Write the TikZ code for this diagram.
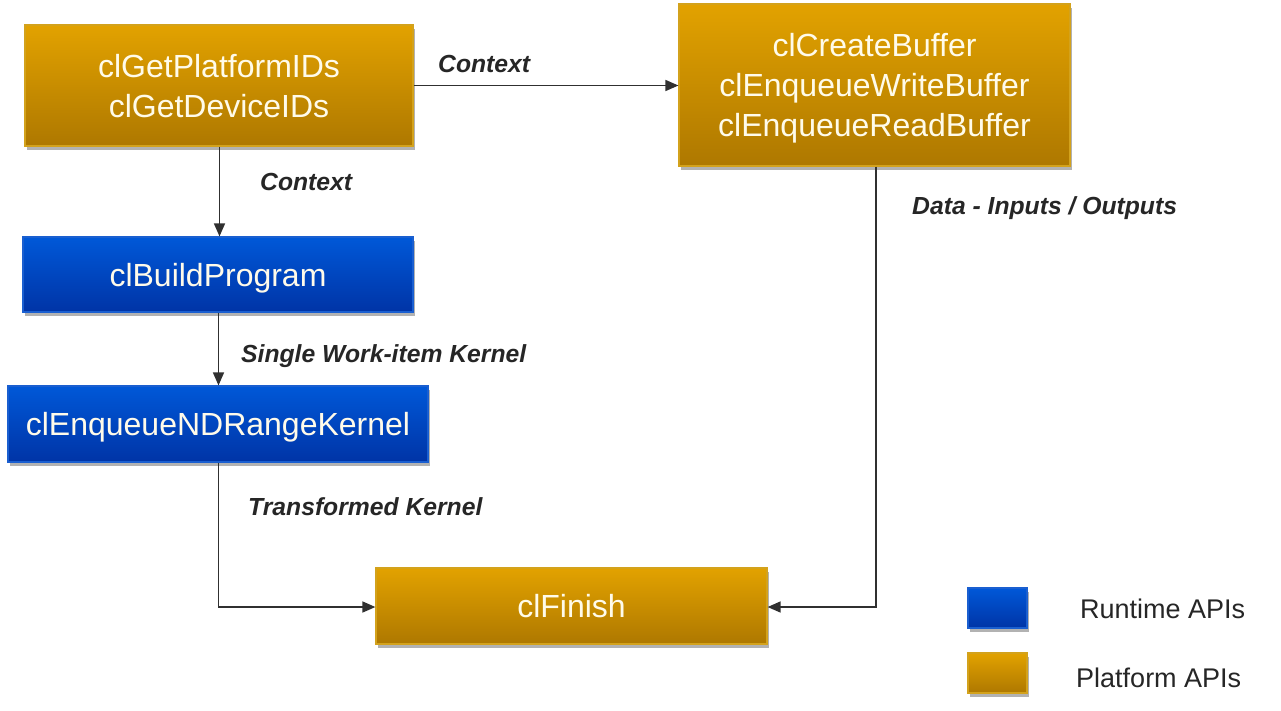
\documentclass[tikz,border=0pt]{standalone}
\usepackage{fontspec}
\setmainfont{Liberation Sans}
\usetikzlibrary{arrows.meta,shadows}
\definecolor{orTop}{HTML}{E2A200}
\definecolor{orBot}{HTML}{AE7800}
\definecolor{orLine}{HTML}{D3A21C}
\definecolor{blTop}{HTML}{0058D8}
\definecolor{blBot}{HTML}{0034A6}
\definecolor{blLine}{HTML}{1A5FD0}
\definecolor{lineGray}{HTML}{303030}
\definecolor{txtGray}{HTML}{262626}
\definecolor{boxTxt}{HTML}{FFFBEA}
\begin{document}
\begin{tikzpicture}[x=1pt,y=-1pt,
  boxbase/.style={inner sep=0pt, line width=1.2pt, text=boxTxt, align=center,
    text depth=0pt,
    font=\fontsize{32}{40}\selectfont,
    drop shadow={shadow xshift=2pt, shadow yshift=-4pt, opacity=0.3, fill=black}},
  platform/.style={boxbase, draw=orLine, top color=orTop, bottom color=orBot},
  runtime/.style={boxbase, draw=blLine, top color=blTop, bottom color=blBot},
  arr/.style={draw=lineGray, line width=1.5pt, -{Triangle[length=13pt,width=11pt]}},
  lbl/.style={anchor=base west, inner sep=0pt, text=txtGray, font=\fontsize{24.7}{28}\selectfont\bfseries\itshape},
  legtxt/.style={anchor=base west, inner sep=0pt, text=txtGray, font=\fontsize{27}{32}\selectfont}]
\useasboundingbox (0,0) rectangle (1281,710);
\fill[white] (0,0) rectangle (1281,710);

\node[platform, minimum width=388pt, minimum height=121pt] (A) at (219,85.5) {clGetPlatformIDs\\clGetDeviceIDs};
\node[runtime, minimum width=390pt, minimum height=75pt] (B) at (218,274.5) {clBuildProgram};
\node[runtime, minimum width=420pt, minimum height=76pt] (C) at (218,424) {clEnqueueNDRangeKernel};
\node[platform, minimum width=391pt, minimum height=162pt] (D) at (874.5,85) {clCreateBuffer\\clEnqueueWriteBuffer\\clEnqueueReadBuffer};
\node[platform, minimum width=391pt, minimum height=76pt] (E) at (571.5,606) {clFinish};

\node[runtime, minimum width=59pt, minimum height=40pt] (LR) at (997.5,608) {};
\node[platform, minimum width=59pt, minimum height=40pt] (LP) at (997.5,673) {};
\node[legtxt] (LRt) at (1080,618) {Runtime APIs};
\node[legtxt] (LPt) at (1076,687) {Platform APIs};

\draw[arr] (A.east) -- (A.east -| D.west);
\draw[arr] ([xshift=0.5pt]A.south) -- ([xshift=0.5pt]A.south |- B.north);
\draw[arr] ([xshift=0.5pt]B.south) -- ([xshift=0.5pt]B.south |- C.north);
\draw[arr] ([xshift=0.5pt]C.south) |- ([yshift=-1pt]E.west);
\draw[arr] ([xshift=1.5pt]D.south) |- ([yshift=-1pt]E.east);

\node[lbl] (l1) at (438,72) {Context};
\node[lbl] (l2) at (260,190) {Context};
\node[lbl] (l3) at (241,362) {Single Work-item Kernel};
\node[lbl] (l4) at (248,515) {Transformed Kernel};
\node[lbl] (l5) at (912,214) {Data - Inputs / Outputs};
\end{tikzpicture}
\end{document}
